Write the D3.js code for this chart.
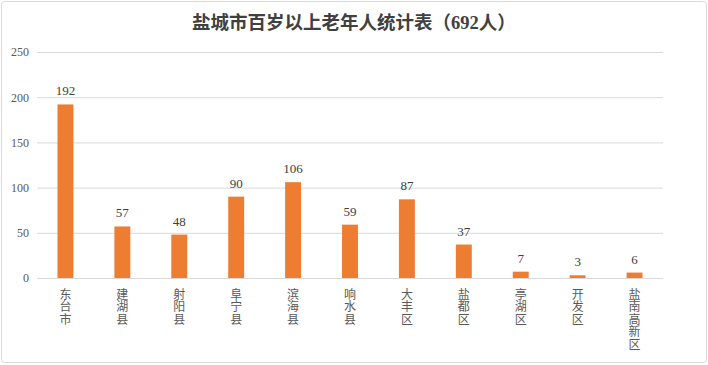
<!DOCTYPE html>
<html>
<head>
<meta charset="utf-8">
<script src="https://cdn.jsdelivr.net/npm/d3@7"></script>
<style>
  body { margin: 0; background: #fff; }
</style>
</head>
<body>
<div id="viz"></div>
<script>
const titleText = '盐城市百岁以上老年人统计表（692人）',
    categories = ['东台市', '建湖县', '射阳县', '阜宁县', '滨海县', '响水县', '大丰区', '盐都区', '亭湖区', '开发区', '盐南高新区'],
    counts = [192, 57, 48, 90, 106, 59, 87, 37, 7, 3, 6],
    yTicks = [0, 50, 100, 150, 200, 250];

const svg = d3.select('#viz')
    .append('svg')
    .attr('width', 708)
    .attr('height', 365);

// outer frame
svg.append('rect')
    .attr('x', 1.5).attr('y', 1.5)
    .attr('width', 705).attr('height', 361)
    .attr('rx', 3)
    .attr('fill', '#fff')
    .attr('stroke', '#d9d9d9');

const margin = {top: 52, right: 45, bottom: 87, left: 37},
    width = 708 - margin.left - margin.right,
    height = 365 - margin.top - margin.bottom;

svg.append('text')
    .attr('x', 354)
    .attr('y', 29)
    .attr('text-anchor', 'middle')
    .attr('font-family', '"Liberation Serif", "Noto Sans CJK SC", serif')
    .attr('font-weight', 'bold')
    .attr('font-size', 18.5)
    .attr('fill', '#404040')
    .text(titleText);

const g = svg.append('g')
    .attr('transform', `translate(${margin.left},${margin.top})`);

const x = d3.scaleBand()
    .domain(categories)
    .range([0, width])
    .paddingInner(0.72)
    .paddingOuter(0.36);

const y = d3.scaleLinear()
    .domain([0, 250])
    .range([height, 0]);

// gridlines + y labels
const yAxis = g.append('g')
    .call(d3.axisLeft(y).tickValues(yTicks).tickSize(-width).tickPadding(8))
    .call(s => s.select('.domain').remove());
yAxis.selectAll('.tick line').attr('stroke', '#d9d9d9');
yAxis.selectAll('.tick text')
    .attr('font-family', '"Liberation Serif", serif')
    .attr('font-size', 12)
    .attr('fill', '#595959');

g.selectAll('rect.bar')
    .data(counts)
    .enter().append('rect')
    .attr('class', 'bar')
    .attr('x', (d, i) => x(categories[i]))
    .attr('width', x.bandwidth())
    .attr('y', d => y(d))
    .attr('height', d => height - y(d))
    .attr('fill', '#ed7d31');

g.selectAll('text.val')
    .data(counts)
    .enter().append('text')
    .attr('class', 'val')
    .attr('x', (d, i) => x(categories[i]) + x.bandwidth() / 2)
    .attr('y', d => y(d) - 9)
    .attr('text-anchor', 'middle')
    .attr('font-family', '"Liberation Serif", serif')
    .attr('font-size', 13)
    .attr('fill', '#404040')
    .text(d => d);

// x axis line
g.append('line')
    .attr('x1', 0).attr('x2', width)
    .attr('y1', height + 0.5).attr('y2', height + 0.5)
    .attr('stroke', '#d9d9d9');

// vertical category labels, one character per line
const labels = g.selectAll('text.cat')
    .data(categories)
    .enter().append('text')
    .attr('class', 'cat')
    .attr('text-anchor', 'middle')
    .attr('font-family', '"Noto Sans CJK SC", sans-serif')
    .attr('font-size', 12)
    .attr('fill', '#595959');

labels.each(function(d) {
    const t = d3.select(this);
    const cx = x(d) + x.bandwidth() / 2;
    Array.from(d).forEach((ch, k) => {
        t.append('tspan')
            .attr('x', cx)
            .attr('y', height + 21 + k * 12.4)
            .text(ch);
    });
});
</script>
</body>
</html>
